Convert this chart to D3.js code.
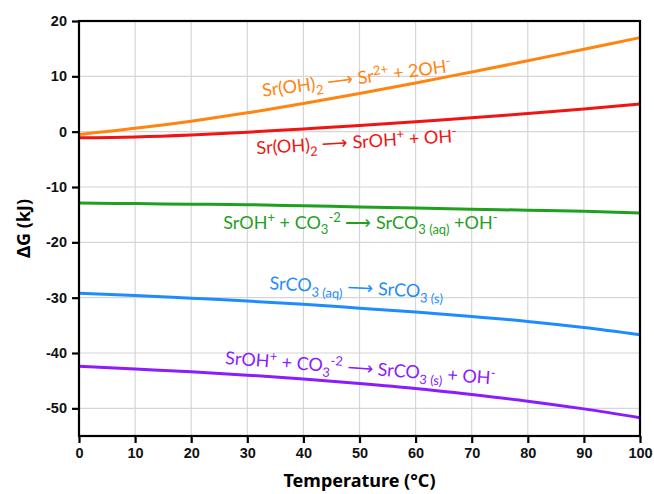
<!DOCTYPE html>
<html>
<head>
<meta charset="utf-8">
<script src="https://cdn.jsdelivr.net/npm/d3@7"></script>
<style>
body { margin: 0; background: #fff; }
svg text { font-family: "Liberation Sans", Arial, sans-serif; }
.lbl { font-family: Lato, "Open Sans", sans-serif; font-size: 18px; }
</style>
</head>
<body>
<div id="chart"></div>
<script>
// temperatures (°C)
var temps = [0, 10, 20, 30, 40, 50, 60, 70, 80, 90, 100];

// ΔG (kJ) per reaction
var sr_oh2_diss = [-0.5, 0.6, 1.9, 3.4, 5.1, 6.9, 8.8, 10.8, 12.8, 14.9, 17.0];
var sr_oh2_first = [-1.1, -0.95, -0.6, -0.1, 0.5, 1.1, 1.8, 2.5, 3.3, 4.1, 5.0];
var srco3_aq_form = [-12.9, -13.0, -13.1, -13.2, -13.4, -13.6, -13.8, -14.0, -14.2, -14.4, -14.7];
var srco3_precip = [-29.2, -29.6, -30.1, -30.6, -31.2, -31.9, -32.6, -33.4, -34.3, -35.4, -36.7];
var srco3_s_form = [-42.4, -42.9, -43.4, -44.0, -44.7, -45.5, -46.4, -47.5, -48.7, -50.1, -51.7];

var x_ticks = [0, 10, 20, 30, 40, 50, 60, 70, 80, 90, 100];
var y_ticks = [20, 10, 0, -10, -20, -30, -40, -50];

var series = [
	{values: sr_oh2_diss, color: '#ff8410'},
	{values: sr_oh2_first, color: '#f01414'},
	{values: srco3_aq_form, color: '#1fa01f'},
	{values: srco3_precip, color: '#1e8cff'},
	{values: srco3_s_form, color: '#8a1cff'}
];

var width = 654, height = 494;
var margin = {top: 21, right: 14, bottom: 58, left: 79};

var svg = d3.select('#chart').append('svg')
	.attr('width', width)
	.attr('height', height);

var x = d3.scaleLinear().domain([0, 100]).range([margin.left, width - margin.right]);
var y = d3.scaleLinear().domain([-55, 20]).range([height - margin.bottom, margin.top]);

// gridlines
svg.append('g')
	.selectAll('line.h')
	.data(y_ticks.slice(1))
	.enter().append('line')
	  .attr('x1', x(0)).attr('x2', x(100))
	  .attr('y1', function(d) { return y(d); })
	  .attr('y2', function(d) { return y(d); })
	  .attr('stroke', '#d6d6d6').attr('stroke-width', 1.2);
svg.append('g')
	.selectAll('line.v')
	.data(x_ticks.slice(1, -1))
	.enter().append('line')
	  .attr('y1', y(-55)).attr('y2', y(20))
	  .attr('x1', function(d) { return x(d); })
	  .attr('x2', function(d) { return x(d); })
	  .attr('stroke', '#d6d6d6').attr('stroke-width', 1.2);

// lines
var line = d3.line()
	.x(function(d, i) { return x(temps[i]); })
	.y(function(d) { return y(d); })
	.curve(d3.curveMonotoneX);

svg.append('g').selectAll('path')
	.data(series)
	.enter().append('path')
	  .attr('d', function(d) { return line(d.values); })
	  .attr('fill', 'none')
	  .attr('stroke', function(d) { return d.color; })
	  .attr('stroke-width', 3);

// frame
svg.append('rect')
	.attr('x', x(0)).attr('y', y(20))
	.attr('width', x(100) - x(0))
	.attr('height', y(-55) - y(20))
	.attr('fill', 'none')
	.attr('stroke', '#000')
	.attr('stroke-width', 2.2);

// axes (plain hyphen minus like the original)
var fmt = function(d) { return String(d); };
var x_axis = svg.append('g')
	.attr('transform', 'translate(0,' + y(-55) + ')')
	.call(d3.axisBottom(x).tickValues(x_ticks).tickFormat(fmt).tickSize(7).tickPadding(5));
var y_axis = svg.append('g')
	.attr('transform', 'translate(' + x(0) + ',0)')
	.call(d3.axisLeft(y).tickValues(y_ticks).tickFormat(fmt).tickSize(7).tickPadding(5));

[x_axis, y_axis].forEach(function(a) {
	a.select('.domain').remove();
	a.selectAll('.tick line').attr('stroke', '#000').attr('stroke-width', 2.2);
	a.selectAll('.tick text')
	  .attr('fill', '#111')
	  .style('font-size', '14.5px')
	  .style('font-weight', 'bold');
});

// axis titles
svg.append('text')
	.attr('x', (x(0) + x(100)) / 2)
	.attr('y', 487)
	.attr('text-anchor', 'middle')
	.style('font-family', '"Noto Sans", sans-serif')
	.style('font-size', '18px')
	.style('font-weight', 'bold')
	.text('Temperature (°C)');

svg.append('text')
	.attr('transform', 'translate(30,' + (y(-55) + y(20)) / 2 + ') rotate(-90)')
	.attr('text-anchor', 'middle')
	.style('font-family', '"Noto Sans", sans-serif')
	.style('font-size', '18px')
	.style('font-weight', 'bold')
	.text('ΔG (kJ)');

// reaction labels: pieces are [text, 'n' | 'sub' | 'sup']
var labels = [
	{t: 32.8, v: 6.3, rot: -7.5, color: '#ff8410', parts: [['Sr(OH)', 'n'], ['2', 'sub'], [' \u27F6 Sr', 'n'], ['2+', 'sup'], [' + 2OH', 'n'], ['-', 'sup']]},
	{t: 31.7, v: -4.1, rot: -3.5, color: '#f01414', parts: [['Sr(OH)', 'n'], ['2', 'sub'], [' \u27F6 SrOH', 'n'], ['+', 'sup'], [' + OH', 'n'], ['-', 'sup']]},
	{t: 25.7, v: -17.6, rot: 0, color: '#1fa01f', parts: [['SrOH', 'n'], ['+', 'sup'], [' + CO', 'n'], ['3', 'sub'], ['-2', 'sup'], [' \u27F6 SrCO', 'n'], ['3 (aq)', 'sub'], [' +OH', 'n'], ['-', 'sup']]},
	{t: 33.9, v: -28.5, rot: 3, color: '#1e8cff', parts: [['SrCO', 'n'], ['3 (aq)', 'sub'], [' \u27F6 SrCO', 'n'], ['3 (s)', 'sub']]},
	{t: 26.0, v: -42.0, rot: 4.3, color: '#8a1cff', parts: [['SrOH', 'n'], ['+', 'sup'], [' + CO', 'n'], ['3', 'sub'], ['-2', 'sup'], [' \u27F6 SrCO', 'n'], ['3 (s)', 'sub'], [' + OH', 'n'], ['-', 'sup']]}
];

var shift = {n: 0, sub: 5, sup: -7};

labels.forEach(function(l) {
	var txt = svg.append('text')
	  .attr('class', 'lbl')
	  .attr('fill', l.color)
	  .attr('transform', 'translate(' + x(l.t) + ',' + y(l.v) + ') rotate(' + l.rot + ')');
	var prev = 0;
	l.parts.forEach(function(p) {
		var s = txt.append('tspan')
		  .attr('dy', shift[p[1]] - prev)
		  .text(p[0]);
		if (p[1] !== 'n') s.style('font-size', '13px');
		prev = shift[p[1]];
	});
});
</script>
</body>
</html>
